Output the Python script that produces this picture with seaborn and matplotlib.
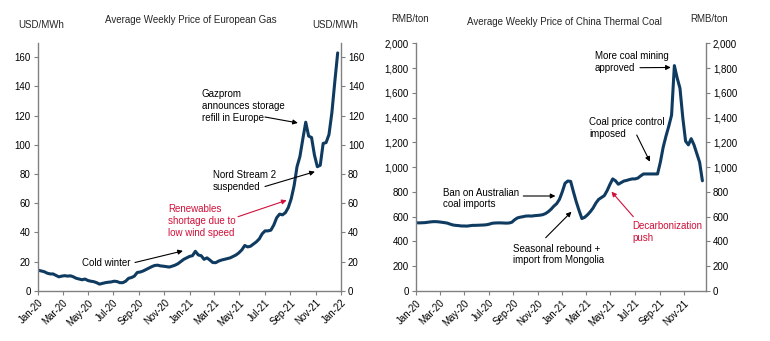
import matplotlib
matplotlib.use("Agg")
import matplotlib.pyplot as plt
import matplotlib.dates as mdates
import numpy as np
import pandas as pd
import seaborn as sns

# ---------------- data ----------------
gas_start = "2020-01-03"
gas_values = [
    14, 13.5, 13, 12, 11.5, 11.5, 10.5, 9.5, 10, 10.3,
    10, 10.2, 9.5, 8.5, 8, 7.5, 8, 7, 6.5, 6.2,
    5.5, 4.5, 5, 5.5, 5.8, 6, 6.5, 6.3, 5.5, 5.5,
    6.5, 8.5, 9, 10, 12.5, 12.8, 13.5, 14.5, 15.5, 16.5,
    17.3, 17.5, 17, 16.8, 16.5, 16.2, 16.8, 17.5, 18.5, 20,
    21.5, 22.5, 23.5, 24, 27, 24.5, 24, 21.5, 22.5, 21,
    19.3, 19.2, 20.3, 21, 21.5, 22, 22.5, 23.5, 24.5, 26,
    28, 31, 30, 30.5, 32, 33.5, 35.5, 39, 41, 41,
    41.5, 45, 50, 52.5, 52, 53.5, 57, 63, 72, 85,
    92, 104, 115.5, 106, 105, 93, 85, 86, 101, 101.5,
    107, 122, 143, 163,
]

coal_start = "2020-01-03"
coal_values = [
    551, 550, 551, 552, 555, 558, 560, 560, 558, 555,
    552, 548, 540, 533, 530, 528, 525, 525, 524, 527,
    530, 530, 531, 532, 533, 535, 540, 547, 549, 550,
    550, 549, 548, 549, 555, 575, 590, 596, 600, 605,
    606, 605, 608, 610, 612, 616, 625, 640, 660, 685,
    705, 740, 800, 870, 888, 885, 800, 720, 650, 585,
    595, 615, 640, 670, 710, 740, 755, 770, 810, 860,
    905, 890, 862, 875, 888, 893, 900, 905, 905, 912,
    930, 945, 945, 945, 945, 945, 945, 1040, 1160, 1250,
    1330, 1420, 1820, 1720, 1637, 1400, 1210, 1180, 1230, 1180,
    1110, 1040, 890,
]

gas_title = "Average Weekly Price of European Gas"
coal_title = "Average Weekly Price of China Thermal Coal"
gas_unit = "USD/MWh"
coal_unit = "RMB/ton"
gas_yticks = [0, 20, 40, 60, 80, 100, 120, 140, 160]
coal_yticks = [0, 200, 400, 600, 800, 1000, 1200, 1400, 1600, 1800, 2000]

# annotations: (text, tip date, tip value, text left px, text center px (from top), tail px, colour)
gas_notes = [
    ("Gazprom\nannounces storage\nrefill in Europe", "2021-09-19", 115, 201.7, 106, (265, 117), "black"),
    ("Nord Stream 2\nsuspended", "2021-10-30", 81.6, 213, 181, (265, 186.5), "black"),
    ("Renewables\nshortage due to\nlow wind speed", "2021-08-23", 62, 168, 221, (238, 216.7), "red"),
    ("Cold winter", "2020-12-16", 27.3, 81.7, 262.7, (135, 262.5), "black"),
]
coal_notes = [
    ("More coal mining\napproved", "2021-09-29", 1805, 595, 62, (640, 67.7), "black"),
    ("Coal price control\nimposed", "2021-08-08", 1044, 589, 128, (636.7, 135), "black"),
    ("Ban on Australian\ncoal imports", "2020-12-15", 767, 442.7, 198.5, (523.3, 196), "black"),
    ("Seasonal rebound +\nimport from Mongolia", "2021-01-24", 640, 512.7, 254.5, (545.7, 237.7), "black"),
    ("Decarbonization\npush", "2021-05-04", 802, 632.3, 232, (633.3, 216.7), "red"),
]

gas_df = pd.DataFrame({"date": pd.date_range(gas_start, periods=len(gas_values), freq="7D"),
                       "price": gas_values})
coal_df = pd.DataFrame({"date": pd.date_range(coal_start, periods=len(coal_values), freq="7D"),
                        "price": coal_values})

# ---------------- style ----------------
sns.set_theme(style="white")
plt.rcParams["font.family"] = ["Liberation Sans", "DejaVu Sans"]
plt.rcParams["font.size"] = 7

W, H = 770, 341
fig = plt.figure(figsize=(W / 100, H / 100), dpi=100)

LINE = "#0f3b61"
SPINE = "#808080"
RED = "#d0103a"
FS = 7


def px_axes(left, right, top, bottom):
    return fig.add_axes([left / W, 1 - bottom / H, (right - left) / W, (bottom - top) / H])


def style_axes(ax, ylim, yticks, xlim, xticks):
    ax.set_xlim(pd.Timestamp(xlim[0]), pd.Timestamp(xlim[1]))
    ax.set_ylim(*ylim)
    ax.set_yticks(yticks)
    ax.yaxis.set_major_formatter(matplotlib.ticker.FuncFormatter(lambda v, p: f"{int(v):,}"))
    ax.set_xticks([pd.Timestamp(t) for t in xticks])
    ax.xaxis.set_major_formatter(mdates.DateFormatter("%b-%y"))
    for lab in ax.get_xticklabels():
        lab.set_rotation(45)
        lab.set_ha("right")
        lab.set_rotation_mode("anchor")
    ax.tick_params(axis="both", which="major", labelsize=FS, colors="black",
                   length=3, width=0.8, direction="out", pad=2)
    ax.tick_params(axis="both", color=SPINE)
    ax.tick_params(axis="y", right=True, labelright=True, left=True, labelleft=True)
    ax.tick_params(axis="x", bottom=True)
    for s in ["left", "right", "bottom"]:
        ax.spines[s].set_visible(True)
        ax.spines[s].set_color(SPINE)
        ax.spines[s].set_linewidth(1.0)
    ax.spines["top"].set_visible(False)
    ax.set_xlabel("")
    ax.set_ylabel("")
    ax.grid(False)


def add_notes(ax, notes):
    for text, d, v, tx, ty, tail, col in notes:
        c = RED if col == "red" else "black"
        fig.text(tx / W, 1 - ty / H, text, ha="left", va="center", fontsize=FS,
                 color=c, linespacing=1.2)
        ax.annotate("", xy=(mdates.date2num(pd.Timestamp(d)), v), xycoords="data",
                    xytext=(tail[0], H - tail[1]), textcoords="figure pixels",
                    arrowprops=dict(arrowstyle="-|>", color=c, lw=0.8,
                                    mutation_scale=7, shrinkA=0, shrinkB=0))


# ---------------- gas ----------------
ax1 = px_axes(37.7, 341, 42.7, 290.7)
sns.lineplot(data=gas_df, x="date", y="price", ax=ax1, color=LINE, linewidth=2.2)
gas_xticks = ["2020-01-01", "2020-03-01", "2020-05-01", "2020-07-01", "2020-09-01",
              "2020-11-01", "2021-01-01", "2021-03-01", "2021-05-01", "2021-07-01",
              "2021-09-01", "2021-11-01", "2022-01-01"]
style_axes(ax1, (0, 170), gas_yticks, ("2020-01-01", "2022-01-01"), gas_xticks)
add_notes(ax1, gas_notes)
fig.text(191 / W, 1 - 20 / H, gas_title, ha="center", va="center", fontsize=FS)
fig.text(41.5 / W, 1 - 25 / H, gas_unit, ha="center", va="center", fontsize=FS)
fig.text(335 / W, 1 - 25 / H, gas_unit, ha="center", va="center", fontsize=FS)

# ---------------- coal ----------------
ax2 = px_axes(415.7, 706, 43.3, 291)
sns.lineplot(data=coal_df, x="date", y="price", ax=ax2, color=LINE, linewidth=2.2)
coal_xticks = gas_xticks[:-1]
style_axes(ax2, (0, 2000), coal_yticks, ("2020-01-01", "2021-12-26"), coal_xticks)
add_notes(ax2, coal_notes)
fig.text(564 / W, 1 - 21.7 / H, coal_title, ha="center", va="center", fontsize=FS)
fig.text(410 / W, 1 - 19 / H, coal_unit, ha="center", va="center", fontsize=FS)
fig.text(709 / W, 1 - 19 / H, coal_unit, ha="center", va="center", fontsize=FS)

fig.savefig("out.png", dpi=100, facecolor="white")
